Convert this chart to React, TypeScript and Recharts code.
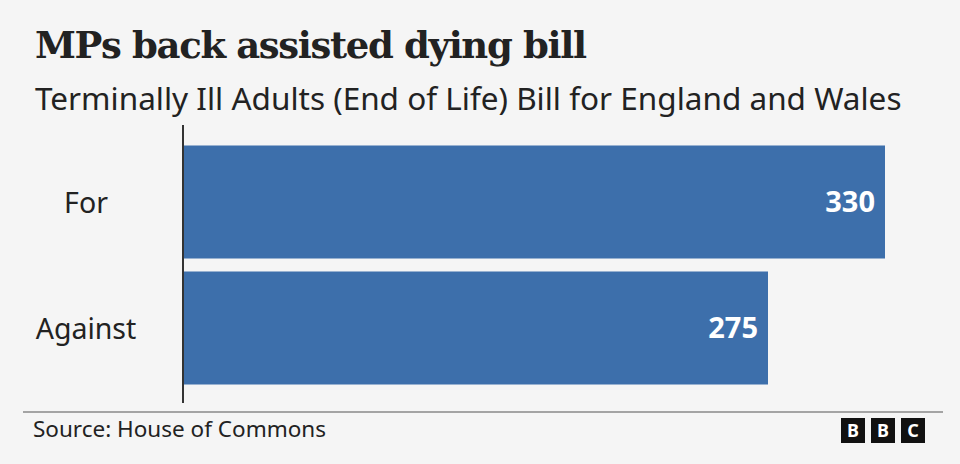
import { Bar, BarChart, LabelList, XAxis, YAxis } from "recharts";

const categories = ["For", "Against"];
const votes = [330, 275];
const data = categories.map((name, i) => ({ name, votes: votes[i] }));

const BG = "#f5f5f5";
const BLUE = "#3d6fab";
const TEXT = "#222222";
const SANS = "'Noto Sans', sans-serif";

function CategoryTick({ y, payload }: any) {
  return (
    <text x={86} y={y} textAnchor="middle" dominantBaseline="central" fill={TEXT} fontSize={28.5} fontFamily={SANS}>
      {payload.value}
    </text>
  );
}

export default function App() {
  return (
    <div style={{ position: "absolute", left: 0, top: 0, width: 960, height: 464, background: BG, overflow: "hidden" }}>
      <svg width={960} height={464} style={{ position: "absolute", left: 0, top: 0 }}>
        <text
          x={35}
          y={58}
          fontFamily="'DejaVu Serif', serif"
          fontWeight="bold"
          fontSize={37}
          letterSpacing={-1.35}
          fill={TEXT}
        >
          MPs back assisted dying bill
        </text>
        <text x={35} y={110} fontFamily={SANS} fontSize={31.5} fill={TEXT}>
          Terminally Ill Adults (End of Life) Bill for England and Wales
        </text>
        <line x1={23} x2={943} y1={412} y2={412} stroke="#888" strokeWidth={1.5} />
        <text x={33} y={437} fontFamily={SANS} fontSize={22.5} fill={TEXT}>
          Source: House of Commons
        </text>
        {["B", "B", "C"].map((l, i) => (
          <g key={i}>
            <rect x={841 + i * 30} y={418} width={24} height={25} fill="#111" />
            <text x={853 + i * 30} y={437} textAnchor="middle" fill="#fff" fontWeight="bold" fontSize={18} fontFamily={SANS}>
              {l}
            </text>
          </g>
        ))}
      </svg>
      <div style={{ position: "absolute", left: 0, top: 0 }}>
        <BarChart
          width={960}
          height={464}
          data={data}
          layout="vertical"
          margin={{ top: 125, right: 75, bottom: 61, left: 0 }}
        >
          <XAxis type="number" domain={[0, 330]} hide />
          <YAxis
            type="category"
            dataKey="name"
            width={183}
            padding={{ top: 13.5, bottom: 12.5 }}
            axisLine={{ stroke: "#333", strokeWidth: 2 }}
            tickLine={false}
            tick={<CategoryTick />}
          />
          <Bar dataKey="votes" fill={BLUE} barSize={113} isAnimationActive={false}>
            <LabelList
              dataKey="votes"
              position="insideRight"
              offset={10}
              fill="#fff"
              fontSize={29}
              fontWeight="bold"
              fontFamily={SANS}
            />
          </Bar>
        </BarChart>
      </div>
    </div>
  );
}
